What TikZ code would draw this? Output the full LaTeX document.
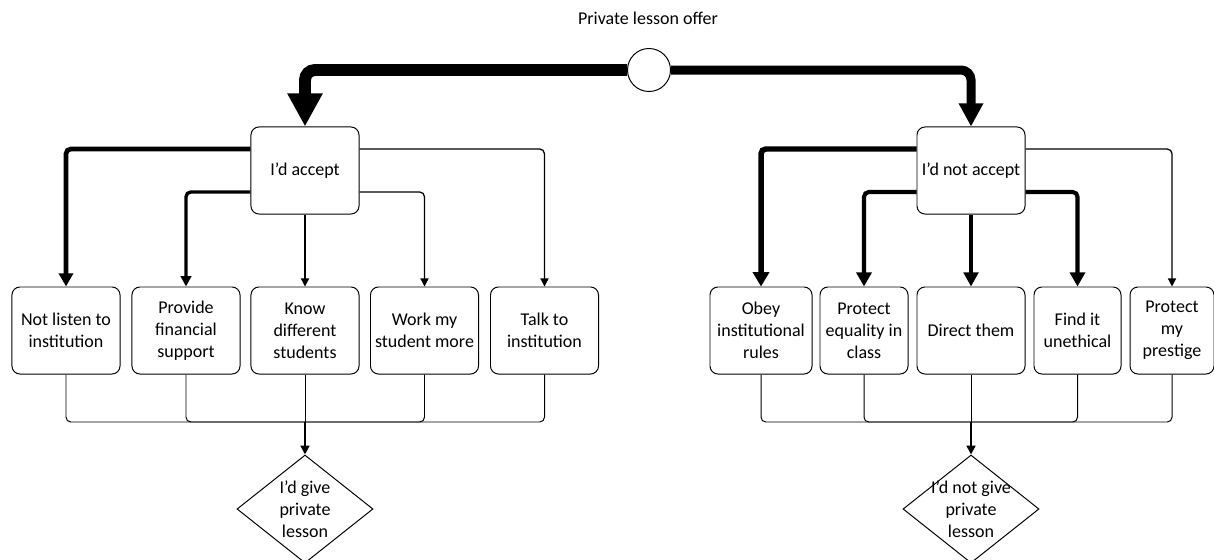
\documentclass[tikz,border=0pt]{standalone}
\usepackage{fontspec}
\setmainfont{Carlito}
\usepackage{tikz}
\usetikzlibrary{shapes.geometric,arrows.meta,positioning,calc}

\newcommand{\lessonfont}{\fontsize{12.8pt}{15.6pt}\selectfont}

\tikzset{
  choice/.style={draw, line width=0.7pt, rounded corners=0.2cm, minimum height=2.175cm,
    minimum width=2.7cm, align=center, inner sep=1pt, font=\lessonfont},
  result/.style={draw, diamond, line width=0.7pt, minimum width=3.4cm, minimum height=2.7cm,
    inner sep=0pt, align=center, font=\lessonfont},
  elbow/.style={rounded corners=0.12cm},
  thinarrow/.style={elbow, line width=0.9pt, -{Triangle[length=0.2cm, width=0.2cm]}},
  merge/.style={elbow, line width=0.7pt}
}

\begin{document}
\begin{tikzpicture}[x=0.025cm, y=-0.025cm]
        \useasboundingbox (0,0) rectangle (1214,559);

        % Offer
        \node[font=\lessonfont] (offer) at (648,18) {Private lesson offer};
        \node[draw, circle, line width=0.7pt, minimum size=1.075cm, inner sep=0pt] (start) at (649,70) {};

        % Answers
        \node[choice] (acc) at (305,170.5) {I'd accept};
        \node[choice] (nacc) at (971,170.5) {I'd not accept};
        \draw[rounded corners=0.25cm, line width=8.5pt, -{Triangle[length=0.825cm, width=0.825cm]}] (start.west) -| (acc.north);
        \draw[rounded corners=0.25cm, line width=6.4pt, -{Triangle[length=0.58cm, width=0.58cm]}] (start.east) -| (nacc.north);

        % Reasons to accept
        \node[choice] (a1) at (66,330.5) {Not listen to\\institution};
        \node[choice] (a2) at (186,330.5) {Provide\\financial\\support};
        \node[choice] (a3) at (305,330.5) {Know\\different\\students};
        \node[choice] (a4) at (424.5,330.5) {Work my\\student more};
        \node[choice] (a5) at (544.5,330.5) {Talk to\\institution};

        \draw[elbow, line width=3.3pt, -{Triangle[length=0.33cm, width=0.35cm]}] ([yshift=0.5375cm]acc.west) -| (a1.north);
        \draw[elbow, line width=2.4pt, -{Triangle[length=0.26cm, width=0.26cm]}] ([yshift=-0.5375cm]acc.west) -| (a2.north);
        \draw[thinarrow] (acc.south) -- (a3.north);
        \draw[thinarrow] ([yshift=-0.5375cm]acc.east) -| (a4.north);
        \draw[thinarrow] ([yshift=0.5375cm]acc.east) -| (a5.north);

        % Reasons not to accept
        \node[choice, minimum width=2.55cm] (n1) at (761,330.5) {Obey\\institutional\\rules};
        \node[choice, minimum width=2.2cm] (n2) at (864,330.5) {Protect\\equality in\\class};
        \node[choice] (n3) at (971,330.5) {Direct them};
        \node[choice, minimum width=2.175cm] (n4) at (1077.5,330.5) {Find it\\unethical};
        \node[choice, minimum width=2.1cm] (n5) at (1172,330.5) {Protect\\my\\prestige};

        \draw[elbow, line width=3.9pt, -{Triangle[length=0.36cm, width=0.4cm]}] ([yshift=0.5375cm]nacc.west) -| (n1.north);
        \draw[elbow, line width=2.9pt, -{Triangle[length=0.35cm, width=0.37cm]}] ([yshift=-0.5375cm]nacc.west) -| (n2.north);
        \draw[elbow, line width=2.9pt, -{Triangle[length=0.35cm, width=0.36cm]}] (nacc.south) -- (n3.north);
        \draw[elbow, line width=2.9pt, -{Triangle[length=0.35cm, width=0.37cm]}] ([yshift=-0.5375cm]nacc.east) -| (n4.north);
        \draw[thinarrow] ([yshift=0.5375cm]nacc.east) -| (n5.north);

        % Outcomes
        \node[result] (give) at (305,509) {I'd give\\private\\lesson};
        \node[result] (ngive) at (971,509) {\makebox[0pt]{I'd not give}\\private\\lesson};

        \coordinate (jl) at (305,422);
        \coordinate (jr) at (971,422);
        \foreach \b in {a1,a2,a4,a5} \draw[merge] (\b.south) |- (jl);
        \draw[merge] (a3.south) -- (jl);
        \draw[line width=1.5pt, -{Triangle[length=0.22cm, width=0.22cm]}] (jl) -- (give.north);
        \foreach \b in {n1,n2,n4,n5} \draw[merge] (\b.south) |- (jr);
        \draw[merge] (n3.south) -- (jr);
        \draw[line width=1.5pt, -{Triangle[length=0.22cm, width=0.22cm]}] (jr) -- (ngive.north);
\end{tikzpicture}
\end{document}
